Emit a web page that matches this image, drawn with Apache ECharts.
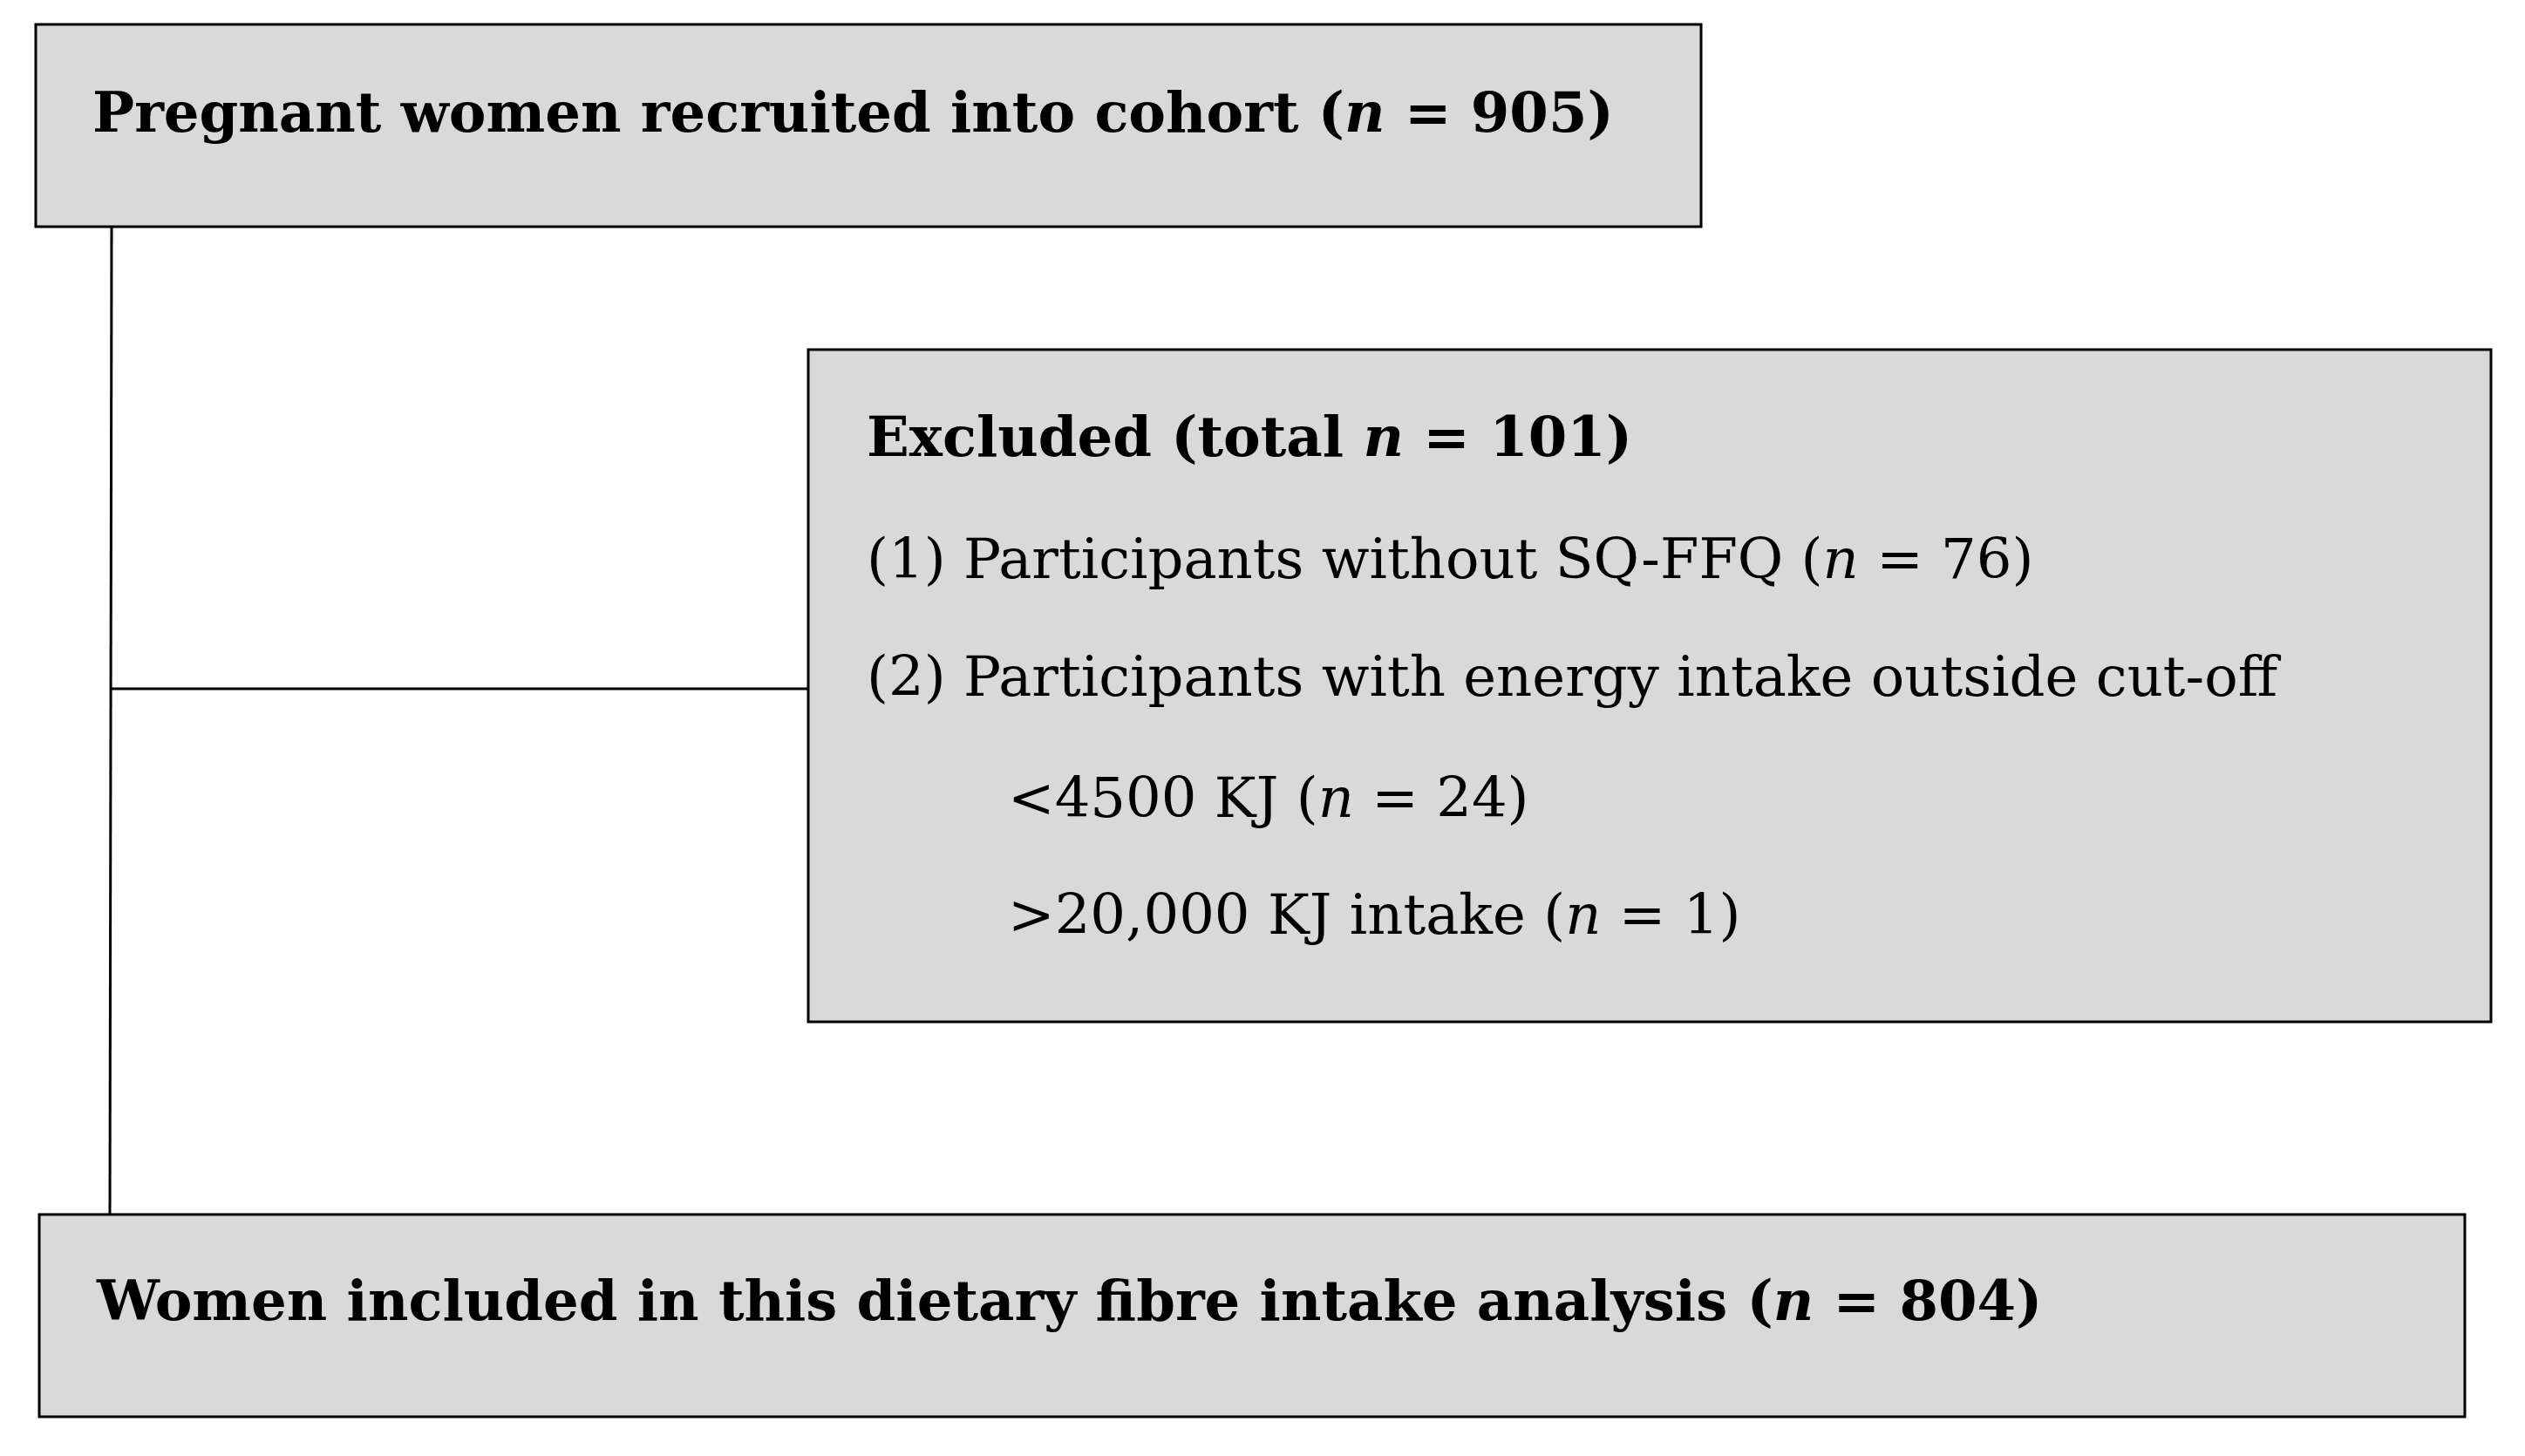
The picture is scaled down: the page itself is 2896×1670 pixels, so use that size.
<!DOCTYPE html>
<html>
<head>
<meta charset="utf-8">
<script src="https://cdn.jsdelivr.net/npm/echarts@6/dist/echarts.min.js"></script>
<style>
  html, body { margin: 0; padding: 0; background: #fff; }
  #chart { width: 2896px; height: 1670px; }
</style>
</head>
<body>
<div id="chart"></div>
<script>
// flowchart content
const boxTitles = ['Pregnant women recruited into cohort', 'Excluded (total', 'Women included in this dietary fibre intake analysis'];
const boxCounts = [905, 101, 804];
const exclusionLines = ['(1) Participants without SQ-FFQ', '(2) Participants with energy intake outside cut-off', '<4500 KJ', '>20,000 KJ intake'];
const exclusionCounts = [76, null, 24, 1];
const exclusionIndent = [false, false, true, true];

const FONT = '"DejaVu Serif", "Liberation Serif", serif';
const FS = 64;
const boxStyle = { fill: '#d9d9d9', stroke: '#000', lineWidth: 3 };
const lineStyle = { stroke: '#000', lineWidth: 3 };

function countText(n, bold) {
  const k = bold ? 'b' : 'r';
  return `{${k}|(}{${bold ? 'bi' : 'i'}|n}{${k}| = ${n})}`;
}
const rich = {
  b: { fontFamily: FONT, fontSize: FS, fontWeight: 'bold', fill: '#000' },
  bi: { fontFamily: FONT, fontSize: FS, fontWeight: 'bold', fontStyle: 'italic', fill: '#000' },
  r: { fontFamily: FONT, fontSize: FS, fill: '#000' },
  i: { fontFamily: FONT, fontSize: FS, fontStyle: 'italic', fill: '#000' }
};
function textEl(x, y, text) {
  return { type: 'text', x: x, y: y, style: { text: text, rich: rich, verticalAlign: 'middle', align: 'left' } };
}

const exclY = [646, 781, 920, 1054];
const elements = [
  { type: 'line', shape: { x1: 128, y1: 260, x2: 126, y2: 1393 }, style: lineStyle },
  { type: 'line', shape: { x1: 128, y1: 790, x2: 927, y2: 790 }, style: lineStyle },
  { type: 'rect', shape: { x: 41, y: 28, width: 1910, height: 232 }, style: boxStyle },
  { type: 'rect', shape: { x: 927, y: 401, width: 1930, height: 771 }, style: boxStyle },
  { type: 'rect', shape: { x: 45, y: 1393, width: 2782, height: 232 }, style: boxStyle },
  textEl(106, 134, `{b|${boxTitles[0]} }` + countText(boxCounts[0], true)),
  textEl(994, 506, `{b|${boxTitles[1]} }{bi|n}{b| = ${boxCounts[1]})}`),
  textEl(111, 1497, `{b|${boxTitles[2]} }` + countText(boxCounts[2], true))
];
exclusionLines.forEach((t, i) => {
  const s = exclusionCounts[i] == null ? `{r|${t}}` : `{r|${t} }` + countText(exclusionCounts[i], false);
  elements.push(textEl(exclusionIndent[i] ? 1156 : 994, exclY[i], s));
});

const chart = echarts.init(document.getElementById('chart'));
chart.setOption({ animation: false, graphic: { elements: elements } });
</script>
</body>
</html>
